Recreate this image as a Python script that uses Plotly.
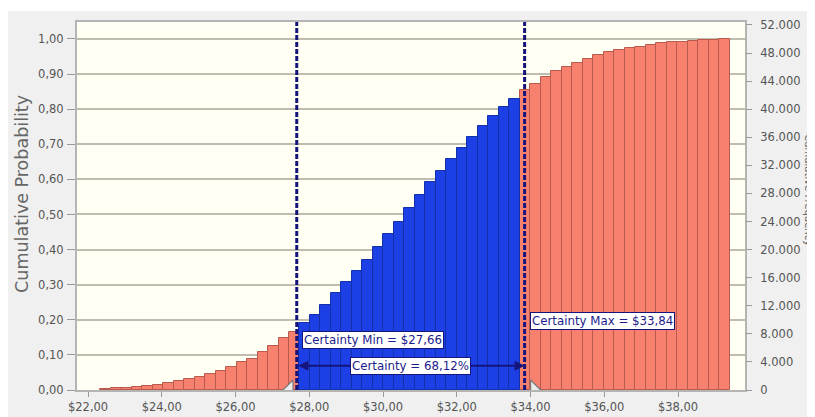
import plotly.graph_objects as go

# ---------------- data ----------------
bin_start = 22.325
bin_width = 0.2847
cum_prob = [0.003, 0.005, 0.007, 0.009, 0.011, 0.014, 0.020, 0.027, 0.031, 0.037,
            0.046, 0.054, 0.065, 0.079, 0.088, 0.109, 0.125, 0.147, 0.166, 0.190,
            0.215, 0.243, 0.276, 0.307, 0.338, 0.371, 0.406, 0.445, 0.480, 0.518,
            0.556, 0.592, 0.625, 0.658, 0.689, 0.720, 0.752, 0.782, 0.806, 0.829,
            0.855, 0.873, 0.891, 0.910, 0.919, 0.933, 0.944, 0.955, 0.962, 0.969,
            0.975, 0.978, 0.982, 0.988, 0.991, 0.992, 0.994, 0.996, 0.998, 1.000]
trials = 50000
cert_min = 27.66
cert_max = 33.84
cert_min_label = "Certainty Min = $27,66"
cert_max_label = "Certainty Max = $33,84"
certainty_label = "Certainty = 68,12%"

x_ticks = [22, 24, 26, 28, 30, 32, 34, 36, 38]
x_tick_labels = ["$22,00", "$24,00", "$26,00", "$28,00", "$30,00", "$32,00", "$34,00", "$36,00", "$38,00"]
y_ticks = [0.0, 0.1, 0.2, 0.3, 0.4, 0.5, 0.6, 0.7, 0.8, 0.9, 1.0]
y_tick_labels = ["0,00", "0,10", "0,20", "0,30", "0,40", "0,50", "0,60", "0,70", "0,80", "0,90", "1,00"]
y2_ticks = [0, 4000, 8000, 12000, 16000, 20000, 24000, 28000, 32000, 36000, 40000, 44000, 48000, 52000]
y2_tick_labels = ["0", "4.000", "8.000", "12.000", "16.000", "20.000", "24.000", "28.000",
                  "32.000", "36.000", "40.000", "44.000", "48.000", "52.000"]

# ---------------- style ----------------
RED = "#f8806f"
RED_EDGE = "#b85a4c"
BLUE = "#1d3fe6"
BLUE_EDGE = "#1230a8"
NAVY = "#14147a"
GRID = "#c0bdb0"
AXIS = "#b4b4b4"
TICKFONT = dict(family="DejaVu Sans", size=11.5, color="#555555")
LABELFONT = dict(family="DejaVu Sans", size=11.8, color="#1c1c8c")
TITLEFONT = dict(family="DejaVu Sans", size=17.5, color="#666666")
Y_TOP = 1.0484

centers = [bin_start + (i + 0.5) * bin_width for i in range(len(cum_prob))]
in_cert = [cert_min <= c <= cert_max for c in centers]

red_x = [c for c, f in zip(centers, in_cert) if not f]
red_y = [p for p, f in zip(cum_prob, in_cert) if not f]
blue_x = [c for c, f in zip(centers, in_cert) if f]
blue_y = [p for p, f in zip(cum_prob, in_cert) if f]

fig = go.Figure()
fig.add_trace(go.Bar(x=red_x, y=red_y, width=bin_width, marker=dict(color=RED, line=dict(color=RED_EDGE, width=1)),
                     hoverinfo="skip", showlegend=False))
fig.add_trace(go.Bar(x=blue_x, y=blue_y, width=bin_width, marker=dict(color=BLUE, line=dict(color=BLUE_EDGE, width=1)),
                     hoverinfo="skip", showlegend=False))
# frequency axis companion (invisible)
fig.add_trace(go.Scatter(x=centers, y=[p * trials for p in cum_prob], yaxis="y2", mode="lines",
                         line=dict(width=0, color="rgba(0,0,0,0)"), hoverinfo="skip", showlegend=False))

# grabber triangles
fig.add_trace(go.Scatter(x=[cert_min - 0.2, cert_max + 0.26], y=[0.008, 0.008], mode="markers",
                         marker=dict(symbol=["triangle-se", "triangle-sw"], size=12, color="#ececec",
                                     line=dict(color="#7a7a7a", width=1.2)),
                         cliponaxis=False, hoverinfo="skip", showlegend=False))

shapes = []
for xv in (cert_min, cert_max):
    shapes.append(dict(type="line", xref="x", yref="paper", x0=xv, x1=xv, y0=0, y1=1,
                       line=dict(color=NAVY, width=3, dash="5px,2px"), layer="above"))
# thin white strip at the very top of the frame
shapes.append(dict(type="rect", xref="paper", yref="paper", x0=-0.2, x1=1.2, y0=1.0299, y1=1.1,
                   fillcolor="white", line=dict(width=0), layer="below"))

arrow_y = 0.069
annotations = [
    dict(x=cert_max, y=arrow_y, ax=cert_min, ay=arrow_y, xref="x", yref="y", axref="x", ayref="y",
         text="", showarrow=True, arrowhead=2, startarrowhead=2, arrowside="end+start",
         arrowsize=1, arrowwidth=2, arrowcolor=NAVY),
    dict(x=(cert_min + cert_max) / 2, y=arrow_y, xref="x", yref="y", text=certainty_label,
         showarrow=False, bgcolor="white", bordercolor=NAVY, borderwidth=1, borderpad=1, font=LABELFONT),
    dict(x=cert_min, y=0.143, xref="x", yref="y", text=cert_min_label, xanchor="left", xshift=5,
         showarrow=False, bgcolor="white", bordercolor=NAVY, borderwidth=1, borderpad=1, font=LABELFONT),
    dict(x=cert_max, y=0.197, xref="x", yref="y", text=cert_max_label, xanchor="left", xshift=5,
         showarrow=False, bgcolor="white", bordercolor=NAVY, borderwidth=1, borderpad=1, font=LABELFONT),
    dict(x=1.0958, y=0.543, xref="paper", yref="paper", text="Cumulative Frequency", textangle=90,
         xanchor="center", showarrow=False, font=dict(family="DejaVu Sans", size=10, color="#666666")),
    dict(x=-0.0823, y=0.533, xref="paper", yref="paper", text="Cumulative Probability", textangle=-90,
         xanchor="center", showarrow=False, font=TITLEFONT),
]

fig.update_layout(
    width=807, height=409,
    margin=dict(l=69, r=70, t=14, b=27),
    paper_bgcolor="#f0f0f0",
    plot_bgcolor="#fffff4",
    barmode="overlay",
    bargap=0,
    shapes=shapes,
    annotations=annotations,
    xaxis=dict(range=[21.70, 39.817], tickvals=x_ticks, ticktext=x_tick_labels, tickfont=TICKFONT,
               ticks="outside", ticklen=5, tickcolor="#999999", showgrid=False, zeroline=False,
               showline=True, linecolor=AXIS, linewidth=2, mirror=True, automargin=False),
    yaxis=dict(range=[0, Y_TOP], tickvals=y_ticks, ticktext=y_tick_labels, tickfont=TICKFONT,
               ticks="outside", ticklen=8, tickcolor="#999999", showgrid=True, gridcolor=GRID, gridwidth=1.5,
               zeroline=False, showline=True, linecolor=AXIS, linewidth=2, mirror=True, automargin=False,
               ticklabelstandoff=1),
    yaxis2=dict(range=[0, Y_TOP * trials], overlaying="y", side="right", tickvals=y2_ticks,
                ticktext=y2_tick_labels, tickfont=TICKFONT, ticks="outside", ticklen=6, tickcolor="#999999",
                showgrid=False, zeroline=False, showline=False, automargin=False, ticklabelstandoff=6),
)

fig.write_html("out.html")
